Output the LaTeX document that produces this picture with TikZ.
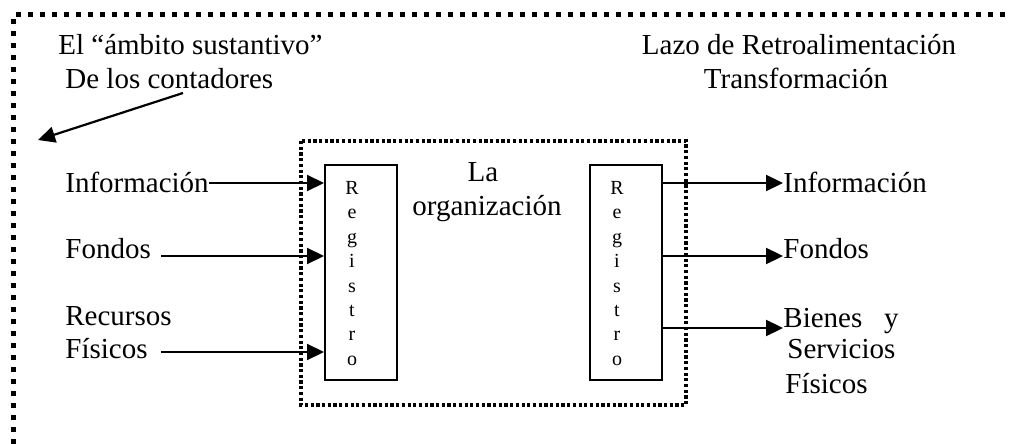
\documentclass[tikz,border=0pt]{standalone}
\usepackage{fontspec}
\setmainfont{Liberation Serif}
\usepackage{tikz}
\usetikzlibrary{arrows.meta, positioning}

\tikzset{
  txt/.style={anchor=base west, inner sep=0pt, font=\fontsize{14.5}{16.5}\selectfont},
  ctxt/.style={txt, anchor=base},
  flow/.style={line width=1.1pt, -{Triangle[length=8.5pt,width=8pt]}},
  regbox/.style={draw, line width=1pt, minimum width=36pt, minimum height=107.5pt, inner sep=0pt},
  regletters/.style={anchor=north, inner sep=0pt, align=center, font=\fontsize{10}{12.2}\selectfont},
  scopeline/.style={line width=2.5pt, dash pattern=on 2.5pt off 3.5pt},
  orgline/.style={line width=1.6pt, dash pattern=on 1.6pt off 1.25pt}
}

\begin{document}
\begin{tikzpicture}[x=0.5pt, y=-0.5pt]
    \useasboundingbox (0,0) rectangle (1012,444);

    % frame of the accountants' field and the organization
    \draw[scopeline] (13,444) -- (13,15) -- (1012,15);
    \draw[orgline] (301,141) rectangle (686,405);

    % headings
    \node[txt] (ambito) at (58,55) {El “ámbito sustantivo”};
    \node[txt] (contadores) at (65,89) {De los contadores};
    \node[ctxt] (lazo) at (799,55) {Lazo de Retroalimentación};
    \node[ctxt] (transf) at (796,89) {Transformación};
    \node[ctxt] (orgLa) at (483,182) {La};
    \node[ctxt] (orgName) at (487,215) {organización};

    \coordinate (ambitoTip) at (38,140);
    \draw[flow] ([xshift=59pt,yshift=-2pt]contadores.base west) -- (ambitoTip);

    % the two record boxes
    \node[regbox] (regIn) at (361,272.5) {};
    \node[regletters] at ([xshift=-4.5pt,yshift=-8.5pt]regIn.north) {R\\e\\g\\i\\s\\t\\r\\o};
    \node[regbox] (regOut) at (625.5,272.5) {};
    \node[regletters] at ([xshift=-4.25pt,yshift=-8.5pt]regOut.north) {R\\e\\g\\i\\s\\t\\r\\o};

    % inputs
    \node[txt] (infoIn) at (65,192) {Información};
    \node[txt] (fondosIn) at (65,258) {Fondos};
    \node[txt] (recursosIn) at (65,325) {Recursos};
    \node[txt] (fisicosIn) at (65,358) {Físicos};

    \draw[flow] (infoIn.east |- 0,183) -- (regIn.west |- 0,183);
    \draw[flow] ([xshift=5pt]fondosIn.east |- 0,256) -- (regIn.west |- 0,256);
    \draw[flow] ([xshift=6.5pt]fisicosIn.east |- 0,352) -- (regIn.west |- 0,352);

    % outputs
    \node[txt] (infoOut) at (783,192) {Información};
    \node[txt] (fondosOut) at (783,258) {Fondos};
    \node[txt] (bienesOut) at (783,327) {Bienes\ \ \ y};
    \node[txt] (serviciosOut) at (787,358) {Servicios};
    \node[txt] (fisicosOut) at (785,393) {Físicos};

    \draw[flow] (regOut.east |- 0,183) -- (infoOut.west |- 0,183);
    \draw[flow] (regOut.east |- 0,256) -- (fondosOut.west |- 0,256);
    \draw[flow] (regOut.east |- 0,328) -- (bienesOut.west |- 0,328);
\end{tikzpicture}
\end{document}
